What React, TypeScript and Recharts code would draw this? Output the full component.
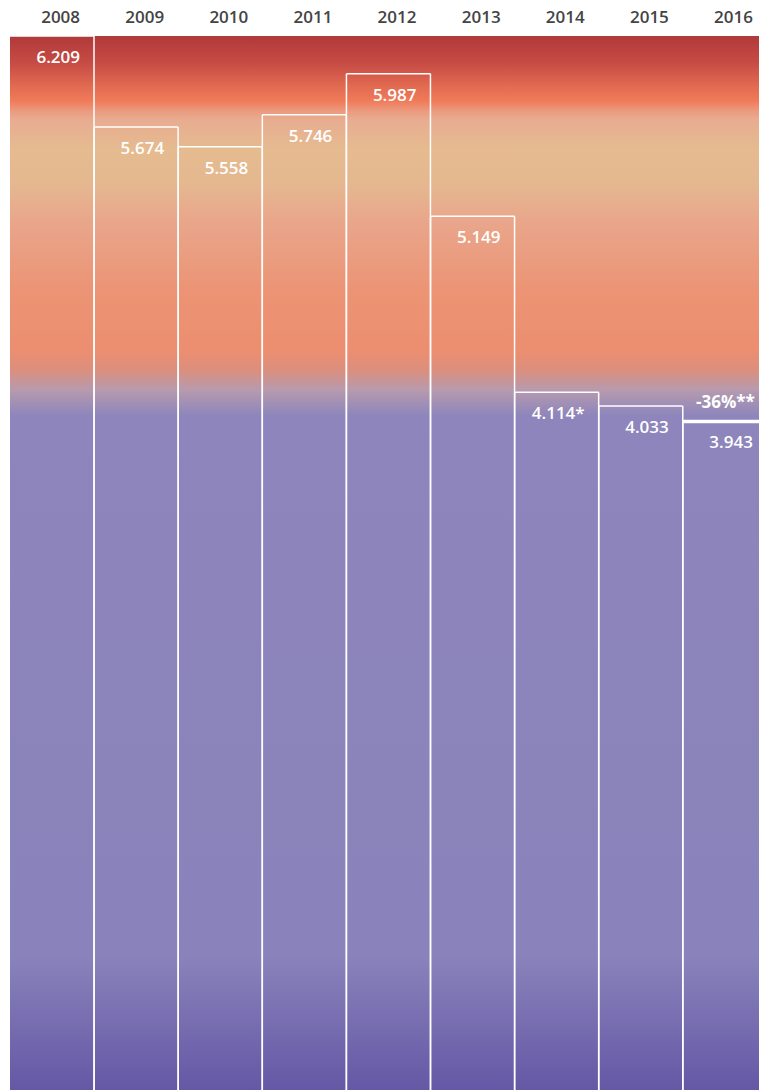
import React from 'react';
import { BarChart, Bar, XAxis, YAxis, ReferenceArea, LabelList } from 'recharts';

const years = ['2008', '2009', '2010', '2011', '2012', '2013', '2014', '2015', '2016'];
const values = [6.209, 5.674, 5.558, 5.746, 5.987, 5.149, 4.114, 4.033, 3.943];
const valueLabels = ['6.209', '5.674', '5.558', '5.746', '5.987', '5.149', '4.114*', '4.033', '3.943'];
const notes = ['', '', '', '', '', '', '', '', '-36%**'];

const data = years.map((year, i) => ({
  year,
  value: values[i],
  label: valueLabels[i],
  note: notes[i],
}));

const FONT = '"Open Sans", "Noto Sans", sans-serif';

// outlined bar, no bottom edge; first column has no left edge
const BarOutline = (props: any) => {
  const { x, y, width, height, index } = props;
  const bottom = y + height;
  const right = x + width;
  const hasNote = !!notes[index];
  return (
    <g>
      {index > 0 && <line x1={x} y1={y} x2={x} y2={bottom} stroke="#fff" strokeWidth={1.5} />}
      <line x1={right} y1={y} x2={right} y2={bottom} stroke="#fff" strokeWidth={1.5} />
      <line x1={x} y1={y} x2={right} y2={y} stroke="#fff" strokeWidth={hasNote ? 3.5 : 1.5} />
    </g>
  );
};

const YearTick = (props: any) => {
  const { x, y, payload } = props;
  return (
    <text x={x + 28} y={y - 5} textAnchor="end" fill="#444" fontSize={17} fontWeight={600} fontFamily={FONT}>
      {payload.value}
    </text>
  );
};

const ValueLabel = (props: any) => {
  const { x, y, width, value } = props;
  return (
    <text x={x + width - 14} y={y + 27} textAnchor="end" fill="#fff" fontSize={17} fontWeight={600} fontFamily={FONT}>
      {value}
    </text>
  );
};

const NoteLabel = (props: any) => {
  const { x, y, width, value } = props;
  if (!value) return null;
  return (
    <text x={x + width - 12} y={y - 13} textAnchor="end" fill="#fff" fontSize={17} fontWeight={700} fontFamily={FONT}>
      {value}
    </text>
  );
};

const App = () => {
  return (
    <div style={{ position: 'absolute', top: 0, left: 0, width: 759, height: 1090, overflow: 'hidden', background: '#fff' }}>
      <BarChart
        width={769}
        height={1092}
        data={data}
        barCategoryGap={0}
        margin={{ top: 0, right: 2, left: 10, bottom: 0 }}
      >
        <defs>
          <linearGradient id="bgGrad" x1="0" y1="0" x2="0" y2="1">
            <stop offset="0" stopColor="#b0393a" />
            <stop offset="0.025" stopColor="#c64b44" />
            <stop offset="0.048" stopColor="#e26b51" />
            <stop offset="0.062" stopColor="#f07c5a" />
            <stop offset="0.071" stopColor="#eb9a7e" />
            <stop offset="0.079" stopColor="#e8ac91" />
            <stop offset="0.108" stopColor="#e5bb8f" />
            <stop offset="0.14" stopColor="#e5b890" />
            <stop offset="0.175" stopColor="#e9a68b" />
            <stop offset="0.24" stopColor="#ec9475" />
            <stop offset="0.298" stopColor="#ec8e70" />
            <stop offset="0.316" stopColor="#dc8f7d" />
            <stop offset="0.335" stopColor="#b79aae" />
            <stop offset="0.36" stopColor="#8d85bb" />
            <stop offset="0.87" stopColor="#8a83bb" />
            <stop offset="1" stopColor="#6457a5" />
          </linearGradient>
        </defs>
        <XAxis
          dataKey="year"
          orientation="top"
          height={36}
          axisLine={false}
          tickLine={false}
          tick={<YearTick />}
          interval={0}
        />
        <YAxis hide domain={[0, 6.209]} />
        <ReferenceArea y1={0} y2={6.209} fill="url(#bgGrad)" fillOpacity={1} stroke="none" ifOverflow="visible" />
        <Bar dataKey="value" fill="none" shape={<BarOutline />} isAnimationActive={false}>
          <LabelList dataKey="label" content={<ValueLabel />} />
          <LabelList dataKey="note" content={<NoteLabel />} />
        </Bar>
      </BarChart>
    </div>
  );
};

export default App;
